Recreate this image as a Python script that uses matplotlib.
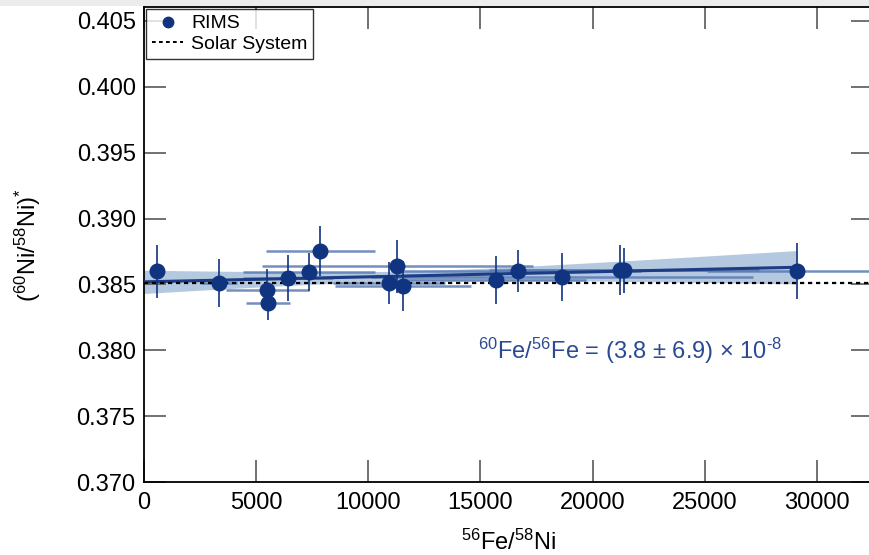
import matplotlib
matplotlib.use('Agg')
import matplotlib.pyplot as plt
from matplotlib.lines import Line2D
from matplotlib.patches import Rectangle
import numpy as np

plt.rcParams['font.family'] = ['Liberation Sans', 'DejaVu Sans']
plt.rcParams['mathtext.fontset'] = 'custom'
plt.rcParams['mathtext.rm'] = 'Liberation Sans'
plt.rcParams['mathtext.it'] = 'Liberation Sans:italic'
plt.rcParams['mathtext.bf'] = 'Liberation Sans:bold'

# ---- data ----
fe_ni = [580, 3344, 5484, 5528, 6420, 7356, 7847, 10923, 11280, 11547,
         15693, 16674, 18636, 21221, 21400, 29113]
fe_ni_err = [300, 800, 1850, 980, 2000, 2950, 2430, 2500, 6040, 3030,
             4000, 5500, 8500, 5000, 6000, 4000]
ni_ratio = [0.38600, 0.38511, 0.38458, 0.38360, 0.38548, 0.38594, 0.38752,
            0.38511, 0.38639, 0.38488, 0.38533, 0.38601, 0.38556, 0.38609,
            0.38609, 0.38601]
ni_ratio_err = [0.0020, 0.00185, 0.0016, 0.0013, 0.00177, 0.00143, 0.0019,
                0.0016, 0.0020, 0.0019, 0.0018, 0.0016, 0.0018, 0.0019,
                0.0017, 0.0021]

solar_ni = 0.3851
fit_slope = 3.8e-8
fit_slope_err = 6.9e-8
fit_intercept = 0.38520
fit_pivot = 11560
fit_pivot_err = 0.00038

xticks = [0, 5000, 10000, 15000, 20000, 25000, 30000]
yticks = [0.370, 0.375, 0.380, 0.385, 0.390, 0.395, 0.400, 0.405]

navy = '#10347f'
band_c = '#b4c9e0'
xerr_c = '#5a7bb3'
text_c = '#2b4a94'

W, H = 870, 555
fig = plt.figure(figsize=(W / 100, H / 100), dpi=100)
fig.patches.append(Rectangle((0, 1 - 6 / H), 1, 6 / H, transform=fig.transFigure,
                             facecolor='#ececec', edgecolor='none', zorder=-5))
ax = fig.add_axes([144 / W, 1 - 482.3 / H, (873 - 144) / W, (482.3 - 7) / H])

# fit band and line
xs = np.linspace(0, max(fe_ni), 300)
fit = fit_intercept + fit_slope * xs
half = np.sqrt(fit_pivot_err ** 2 + ((xs - fit_pivot) * fit_slope_err) ** 2)
ax.fill_between(xs, fit - half, fit + half, color=band_c, lw=0, zorder=1)

# horizontal error bars
ax.errorbar(fe_ni, ni_ratio, xerr=fe_ni_err, fmt='none', ecolor=xerr_c,
            elinewidth=1.8, alpha=0.85, capsize=0, zorder=2)
ax.plot(xs, fit, color='#1c3c85', lw=2.2, zorder=3, solid_capstyle='butt')

# solar system reference
ax.axhline(solar_ni, color='black', lw=1.6, linestyle=(0, (1.9, 1.7)), zorder=4)

# data points
ax.errorbar(fe_ni, ni_ratio, yerr=ni_ratio_err, fmt='o', color=navy,
            markersize=10.5, ecolor=navy, elinewidth=1.2, capsize=0, zorder=5)

ax.set_xlim(0, 32500)
ax.set_ylim(0.370, 0.40604)
ax.set_xticks(xticks)
ax.set_yticks(yticks)
ax.set_xticklabels([str(t) for t in xticks])
ax.set_yticklabels([f'{t:.3f}' for t in yticks])
ax.tick_params(direction='in', length=16, width=1.3, color='#666666',
               top=True, right=True, labelsize=17)
ax.tick_params(axis='x', pad=7)
ax.tick_params(axis='y', pad=6)
for s in ax.spines.values():
    s.set_linewidth(1.3)
    s.set_color('black')

ax.set_xlabel('$^{56}$Fe/$^{58}$Ni', fontsize=17, labelpad=11)
ax.set_ylabel('($^{60}$Ni/$^{58}$Ni)$^{*}$', fontsize=17, labelpad=24)

ax.text(21660, 0.3800, '$^{60}$Fe/$^{56}$Fe = (3.8 ± 6.9) × 10$^{\\text{-8}}$',
        fontsize=17, color=text_c, ha='center', va='center')

handles = [Line2D([], [], marker='o', color=navy, linestyle='none', markersize=7.5),
           Line2D([], [], color='black', lw=1.4, linestyle=(0, (1.9, 1.7)))]
leg = ax.legend(handles, ['RIMS', 'Solar System'], loc='upper left',
                bbox_to_anchor=(0.003, 0.996), borderaxespad=0, fontsize=14,
                frameon=True, fancybox=False, handlelength=1.6,
                handletextpad=0.4, labelspacing=0.15, borderpad=0.3)
leg.get_frame().set_edgecolor('black')
leg.get_frame().set_linewidth(1.0)

fig.savefig('out.png', dpi=100)
